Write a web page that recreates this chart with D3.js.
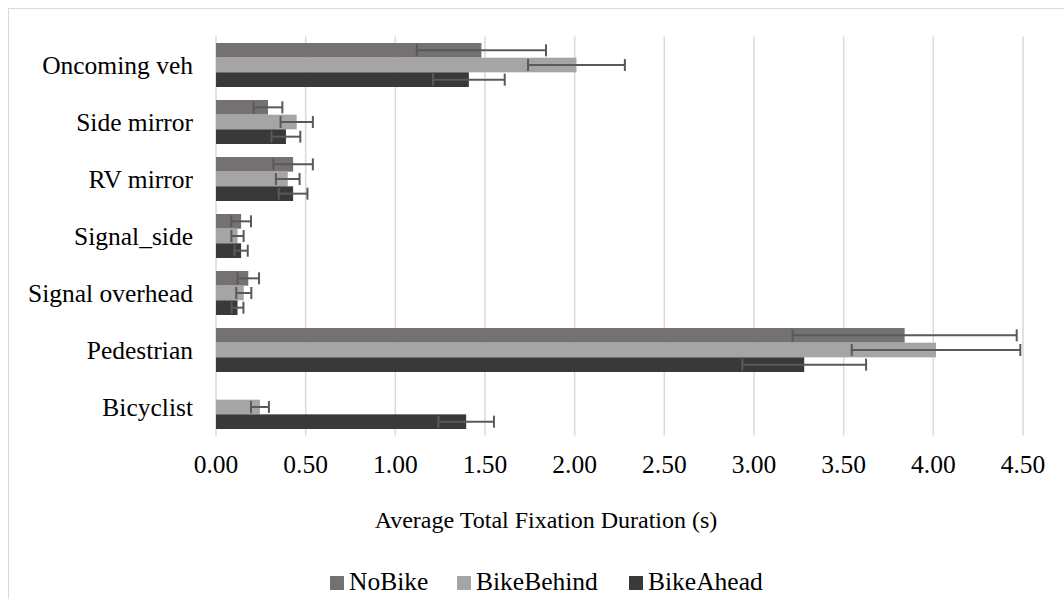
<!DOCTYPE html>
<html>
<head>
    <meta charset="UTF-8">
    <title>Average Total Fixation Duration</title>
    <script src="https://d3js.org/d3.v7.min.js"></script>
    <style>
        body {
            margin: 0;
            background: #fff;
        }
        #wrap {
            position: relative;
            width: 1064px;
            height: 599px;
            overflow: hidden;
        }
        #wrap svg {
            position: absolute;
            left: 0;
            top: 0;
        }
        .lbl {
            position: absolute;
            font-size: 25.5px;
            line-height: 1;
            white-space: nowrap;
            color: #000;
        }
    </style>
</head>
<body>
    <div id="wrap">
        <svg id="chart" width="1064" height="599"></svg>
    </div>
    <script>
        // Data
        const categories = ["Oncoming veh", "Side mirror", "RV mirror", "Signal_side", "Signal overhead", "Pedestrian", "Bicyclist"];
        const seriesNames = ["NoBike", "BikeBehind", "BikeAhead"];
        const noBike = [1.48, 0.29, 0.43, 0.14, 0.18, 3.84, 0];
        const noBikeErr = [0.36, 0.08, 0.11, 0.055, 0.06, 0.625, null];
        const bikeBehind = [2.01, 0.45, 0.40, 0.12, 0.155, 4.015, 0.245];
        const bikeBehindErr = [0.27, 0.09, 0.066, 0.034, 0.042, 0.47, 0.05];
        const bikeAhead = [1.41, 0.39, 0.43, 0.14, 0.12, 3.28, 1.395];
        const bikeAheadErr = [0.2, 0.08, 0.08, 0.037, 0.033, 0.345, 0.155];
        const xTicks = [0, 0.5, 1, 1.5, 2, 2.5, 3, 3.5, 4, 4.5];

        const colors = ["#767171", "#a5a5a5", "#3b3838"];
        const values = [noBike, bikeBehind, bikeAhead];
        const errors = [noBikeErr, bikeBehindErr, bikeAheadErr];
        const serif = "'Liberation Serif'";

        const wrap = d3.select('#wrap');
        const svg = d3.select('#chart');

        // chart area border
        svg.append('rect')
            .attr('x', 8.5).attr('y', 8.5)
            .attr('width', 1100).attr('height', 700)
            .attr('fill', 'none')
            .attr('stroke', '#d9d9d9');

        const x = d3.scaleLinear().domain([0, 4.5]).range([216, 1023]);
        const y = d3.scaleBand().domain(categories).range([36.5, 435.5]);
        const ySub = d3.scaleBand().domain(seriesNames).range([6.5, 50.5]);

        // gridlines (includes the zero line)
        svg.append('g')
            .selectAll('line')
            .data(xTicks)
            .join('line')
            .attr('x1', d => x(d)).attr('x2', d => x(d))
            .attr('y1', 36.5).attr('y2', 435.5)
            .attr('stroke', '#d9d9d9')
            .attr('stroke-width', 1.5);

        // x tick labels
        wrap.selectAll('div.tick')
            .data(xTicks)
            .join('div')
            .attr('class', 'lbl tick')
            .style('font-family', serif)
            .style('left', d => x(d) + 'px')
            .style('top', '465px')
            .style('transform', 'translate(-50%, -50%)')
            .text(d => d3.format('.2f')(d));

        // category labels
        wrap.selectAll('div.cat')
            .data(categories)
            .join('div')
            .attr('class', 'lbl cat')
            .style('font-family', serif)
            .style('right', (1064 - 193) + 'px')
            .style('top', d => (y(d) + y.bandwidth() / 2 + 0.5) + 'px')
            .style('transform', 'translateY(-50%)')
            .text(d => d);

        // bars + error bars per series
        seriesNames.forEach((name, s) => {
            const rows = categories.map((c, i) => ({ cat: c, v: values[s][i], e: errors[s][i] }));
            const g = svg.append('g');

            g.selectAll('rect')
                .data(rows)
                .join('rect')
                .attr('x', x(0))
                .attr('y', d => y(d.cat) + ySub(name))
                .attr('width', d => x(d.v) - x(0))
                .attr('height', ySub.bandwidth())
                .attr('fill', colors[s]);

            const err = g.selectAll('g.err')
                .data(rows.filter(d => d.e != null))
                .join('g')
                .attr('class', 'err')
                .attr('stroke', '#595959')
                .attr('stroke-width', 2);

            const cy = d => y(d.cat) + ySub(name) + ySub.bandwidth() / 2;
            err.append('line')
                .attr('x1', d => x(d.v - d.e)).attr('x2', d => x(d.v + d.e))
                .attr('y1', cy).attr('y2', cy);
            err.append('line')
                .attr('x1', d => x(d.v - d.e)).attr('x2', d => x(d.v - d.e))
                .attr('y1', d => cy(d) - 6).attr('y2', d => cy(d) + 6);
            err.append('line')
                .attr('x1', d => x(d.v + d.e)).attr('x2', d => x(d.v + d.e))
                .attr('y1', d => cy(d) - 6).attr('y2', d => cy(d) + 6);
        });

        // axis title
        wrap.append('div')
            .attr('class', 'lbl')
            .style('font-family', serif)
            .style('left', '546px')
            .style('top', '520px')
            .style('font-size', '24px')
            .style('transform', 'translate(-50%, -50%)')
            .text('Average Total Fixation Duration (s)');

        // legend
        const legendX = [330, 457, 629];
        svg.append('g')
            .selectAll('rect')
            .data(seriesNames)
            .join('rect')
            .attr('x', (d, i) => legendX[i])
            .attr('y', 576)
            .attr('width', 14).attr('height', 14)
            .attr('fill', (d, i) => colors[i]);
        wrap.selectAll('div.leg')
            .data(seriesNames)
            .join('div')
            .attr('class', 'lbl leg')
            .style('font-family', serif)
            .style('left', (d, i) => (legendX[i] + 19) + 'px')
            .style('top', '581.5px')
            .style('transform', 'translateY(-50%)')
            .text(d => d);
    </script>
</body>
</html>
